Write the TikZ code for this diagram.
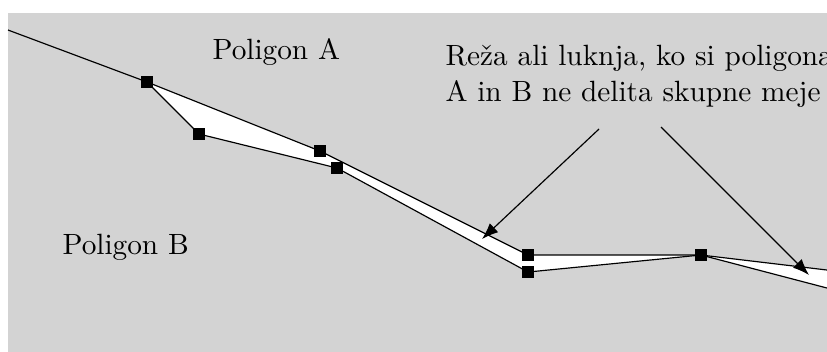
\documentclass[tikz,border=0pt]{standalone}
\usepackage{tikz}
\usetikzlibrary{arrows.meta,backgrounds}
\definecolor{softgrey}{RGB}{211,211,211}
\tikzset{
    vertex/.style={
        fill=black,
        inner sep=0pt,
        minimum size=4.4pt
    },
    polytext/.style={
        inner sep=0pt,
        anchor=base west
    },
    border/.style={thin, black},
    arrow/.style={-{Latex[length=5.6pt,width=4.2pt]}, thin}
}

\begin{document}
\begin{tikzpicture}[x=0.012cm,y=-0.012cm]
\useasboundingbox (0,0) rectangle (827,351);
\clip (0,0) rectangle (827,351);

% ------------------------------------------------------------
% Vertices of the two boundaries
% ------------------------------------------------------------

\node[vertex] (p1) at (147,82) {};
\node[vertex] (b2) at (199,134) {};
\node[vertex] (a3) at (320,151) {};
\node[vertex] (b4) at (337,168) {};
\node[vertex] (a5) at (528,255) {};
\node[vertex] (b6) at (528,272) {};
\node[vertex] (p7) at (701,255) {};

\coordinate (start) at (8,30);
\coordinate (endA) at (827,270);
\coordinate (endB) at (827,288);

% ------------------------------------------------------------
% Polygons and the gap between them
% ------------------------------------------------------------

\begin{scope}[on background layer]
\fill[softgrey] (8,13) rectangle (840,360);

\fill[white] (p1.center) -- (a3.center) -- (a5.center) -- (p7.center)
  -- (endA) -- (endB) -- (p7.center) -- (b6.center) -- (b4.center)
  -- (b2.center) -- cycle;

% boundary of polygon A
\draw[border] (start) -- (p1.center) -- (a3.center) -- (a5.center)
  -- (p7.center) -- (endA);

% boundary of polygon B
\draw[border] (p1.center) -- (b2.center) -- (b4.center) -- (b6.center)
  -- (p7.center) -- (endB);
\end{scope}

% ------------------------------------------------------------
% Labels
% ------------------------------------------------------------

\node[polytext] (labelA) at (212,59) {Poligon A};
\node[polytext] (labelB) at (62,254) {Poligon B};

\node[polytext, anchor=north west, align=left] (note) at (445,45)
{Reža ali luknja, ko si poligona\\A in B ne delita skupne meje};

\coordinate (tailL) at (599,129);
\coordinate (tipL) at (482,239);
\coordinate (tailR) at (661,127);
\coordinate (tipR) at (809,275);

\draw[arrow] (tailL) -- (tipL);
\draw[arrow] (tailR) -- (tipR);

\end{tikzpicture}
\end{document}
